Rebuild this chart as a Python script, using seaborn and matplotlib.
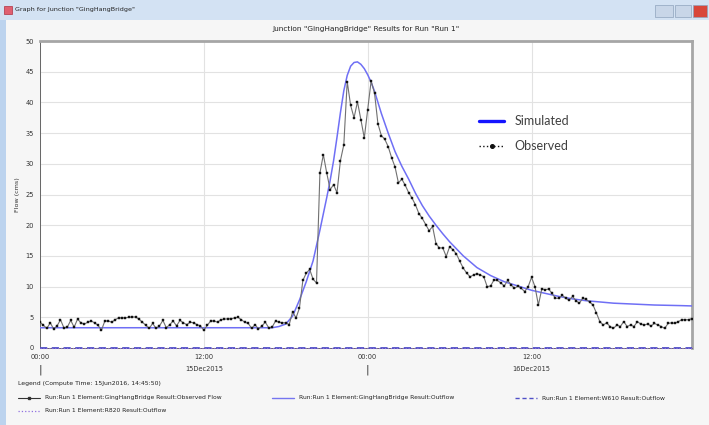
import numpy as np
import pandas as pd
import matplotlib
matplotlib.use("Agg")
import matplotlib.pyplot as plt
from matplotlib.lines import Line2D
from matplotlib.patches import Rectangle
import seaborn as sns

# ---------------- data ----------------
window_title = 'Graph for Junction "GingHangBridge"'
chart_title = 'Junction "GingHangBridge" Results for Run "Run 1"'
y_label = "Flow (cms)"
x_tick_hours = [0, 12, 24, 36]
x_tick_labels = ["00:00", "12:00", "00:00", "12:00"]
date_label_hours = [12, 36]
date_labels = ["15Dec2015", "16Dec2015"]
day_break_hours = [0, 24]
y_ticks = [0, 5, 10, 15, 20, 25, 30, 35, 40, 45, 50]

# observed flow, 15-minute steps from 15Dec2015 00:00
observed_flow = [
    4.2, 3.7, 3.2, 4.1, 3.1, 3.6, 4.6, 3.3, 3.4, 4.5,
    3.4, 4.7, 4.1, 3.9, 4.2, 4.4, 4.1, 3.7, 2.9, 4.4,
    4.4, 4.2, 4.6, 4.9, 4.9, 4.9, 5.0, 5.05, 5.05, 4.7,
    4.2, 3.7, 3.2, 4.0, 3.2, 3.6, 4.5, 3.3, 3.8, 4.4,
    3.6, 4.5, 4.1, 3.8, 4.2, 4.1, 3.8, 3.6,
    2.9, 3.7, 4.4, 4.4, 4.2, 4.6, 4.7, 4.75, 4.75, 4.9,
    5.0, 4.6, 4.2, 4.0, 3.2, 3.8, 3.1, 3.6, 4.2, 3.3,
    3.4, 4.4, 4.2, 4.1, 4.1, 3.8,
    5.9, 4.9, 6.5, 11.0, 12.2, 12.8, 11.2, 10.6,
    28.5, 31.5, 28.5, 25.8, 26.6, 25.3, 30.5, 33.1, 43.4, 39.5,
    37.5, 40.1, 37.2, 34.2, 38.8, 43.5, 41.5, 36.5, 34.6, 34.0,
    32.8, 31.0, 29.5, 26.9, 27.5, 26.5, 25.3, 24.4, 23.3, 21.9,
    21.1, 20.1, 19.1, 19.8, 17.0, 16.3,
    16.3, 14.9, 16.5, 16.0, 15.3, 14.1, 13.0, 12.2, 11.6, 11.9,
    12.1, 11.9, 11.6, 10.0, 10.1, 11.1, 11.0, 10.6, 10.1, 11.0,
    10.3, 9.7, 10.1, 9.7, 9.2, 10.0, 11.5, 10.0, 7.0, 9.6,
    9.5, 9.6, 8.9, 8.1, 8.1, 8.6, 8.1, 7.8, 8.4, 7.7,
    7.3, 8.1, 7.9, 7.5, 7.0, 5.7, 4.3, 3.75, 4.1, 3.5,
    3.2, 3.75, 3.5, 4.3, 3.5, 3.75, 3.5, 4.3, 3.9, 3.75,
    3.9, 3.6, 4.0, 3.75, 3.5, 3.2, 4.0, 4.1, 4.0, 4.3,
    4.6, 4.6, 4.6, 4.8,
]
observed_hours = np.arange(len(observed_flow)) * 0.25

# simulated outflow at GingHangBridge
sim_hours = [0, 17, 17.5, 18, 18.5, 19, 19.5, 20, 20.5, 21, 21.25, 21.5, 21.75,
             22, 22.25, 22.5, 22.75, 23, 23.25, 23.5, 23.75, 24, 24.25, 24.5,
             24.75, 25, 25.5, 26, 26.5, 27, 27.5, 28, 28.5, 29, 29.5, 30, 31, 32,
             33, 34, 35, 36, 37, 38, 39, 40, 41, 42, 43, 44, 45, 46, 47, 47.75]
sim_flow = [3.3, 3.3, 3.5, 3.9, 5.2, 7.8, 10.8, 14.2, 19.2, 24.5, 27.3, 30.5,
            34.3, 38.3, 41.9, 44.4, 45.9, 46.5, 46.6, 46.2, 45.5, 44.5, 43.3,
            41.8, 40.0, 38.2, 35.0, 32.0, 29.6, 27.5, 25.2, 23.2, 21.5, 20.0,
            18.6, 17.3, 15.0, 13.1, 11.8, 10.8, 10.1, 9.4, 8.9, 8.4, 8.0, 7.7,
            7.5, 7.3, 7.2, 7.1, 7.0, 6.95, 6.9, 6.85]

# other elements (zero flow)
w610_hours = [0, 47.75]
w610_flow = [0.0, 0.0]
r820_hours = [0, 47.75]
r820_flow = [0.0, 0.0]

legend_header = "Legend (Compute Time: 15Jun2016, 14:45:50)"
legend_names = [
    "Run:Run 1 Element:GingHangBridge Result:Observed Flow",
    "Run:Run 1 Element:GingHangBridge Result:Outflow",
    "Run:Run 1 Element:W610 Result:Outflow",
    "Run:Run 1 Element:R820 Result:Outflow",
]
inset_names = ["Simulated", "Observed"]

# ---------------- figure ----------------
sns.set_style("white")
plt.rcParams["font.family"] = ["DejaVu Sans"]

W, H = 709, 425
fig = plt.figure(figsize=(W / 100, H / 100), dpi=100)
fig.patch.set_facecolor("#f6f6f6")

def fx(px):
    return px / W

def fy(py):
    return 1 - py / H

# window chrome
fig.add_artist(Rectangle((0, fy(20)), 1, 20 / H, transform=fig.transFigure,
                         facecolor="#d3e2f3", edgecolor="none", zorder=0))
fig.add_artist(Rectangle((0, 0), fx(6), fy(20), transform=fig.transFigure,
                         facecolor="#bcd3ee", edgecolor="none", zorder=0))
fig.add_artist(Rectangle((fx(4), fy(14)), fx(8), 8 / H, transform=fig.transFigure,
                         facecolor="#e06070", edgecolor="#b03040", lw=0.5, zorder=1))
for x0, wdt, col in [(655, 18, "#c8d6e8"), (675, 16, "#c8d6e8"), (693, 14, "#d8463a")]:
    fig.add_artist(Rectangle((fx(x0), fy(17)), fx(wdt), 12 / H, transform=fig.transFigure,
                             facecolor=col, edgecolor="#8fa3bd", lw=0.5, zorder=1))
fig.text(fx(15), fy(10), window_title, fontsize=4.6, va="center", ha="left", color="#222222")
fig.text(fx(366), fy(29), chart_title, fontsize=5.3, va="center", ha="center", color="#222222")

ax = fig.add_axes([fx(40), fy(348), fx(692) - fx(40), fy(41) - fy(348)])
ax.set_facecolor("white")

# other elements at zero
sns.lineplot(x=w610_hours, y=w610_flow, ax=ax, color="#5050c8", lw=1.3,
             linestyle=(0, (4, 2.5)), zorder=5, clip_on=False)
sns.lineplot(x=r820_hours, y=r820_flow, ax=ax, color="#9070e0", lw=0.8,
             linestyle=":", zorder=5, clip_on=False)
# simulated
sns.lineplot(x=sim_hours, y=sim_flow, ax=ax, color="#6f6ff5", lw=1.1, zorder=4)
# observed
sns.lineplot(x=observed_hours, y=observed_flow, ax=ax, color="#707070", lw=0.8,
             marker="s", markersize=1.7, markerfacecolor="#111111",
             markeredgecolor="#111111", markeredgewidth=0.3, zorder=6)

ax.set_xlim(0, 47.75)
ax.set_ylim(0, 50)
ax.set_yticks(y_ticks)
ax.set_yticklabels([str(v) for v in y_ticks], fontsize=4.8, color="#333333")
ax.set_xticks(x_tick_hours)
ax.set_xticklabels(x_tick_labels, fontsize=4.8, color="#333333")
ax.tick_params(axis="both", length=2.5, width=0.6, color="#555555", pad=2)
ax.grid(True, color="#e2e2e2", lw=0.8)
ax.set_axisbelow(True)
for side in ["left", "bottom"]:
    ax.spines[side].set_color("#666666")
    ax.spines[side].set_linewidth(0.7)
for side in ["top", "right"]:
    ax.spines[side].set_color("#a6a6a6")
    ax.spines[side].set_linewidth(2.0)
ax.set_xlabel("")
ax.set_ylabel("")
fig.text(fx(18), fy(195), y_label, fontsize=4.6, rotation=90, va="center",
         ha="center", color="#333333")

trans = ax.get_xaxis_transform()
for h, lab in zip(date_label_hours, date_labels):
    ax.text(h, -0.068, lab, transform=trans, fontsize=4.8, ha="center",
            va="center", color="#333333")
for h in day_break_hours:
    ax.text(h, -0.07, "|", transform=trans, fontsize=8, ha="center",
            va="center", color="#333333")

# in-plot legend
inset_handles = [
    Line2D([], [], color="#1414ff", lw=2.4),
    Line2D([], [], color="#111111", lw=1.0, linestyle=":", marker="o",
           markersize=2.6, markevery=1),
]
leg = ax.legend(inset_handles, inset_names, loc="upper left",
                bbox_to_anchor=((468 - 40) / 652, (348 - 104) / 307),
                frameon=False, handlelength=2.0, labelspacing=1.05,
                handletextpad=0.8, prop={"family": "Lato", "size": 9})
for t in leg.get_texts():
    t.set_color("#404040")

# bottom legend
fig.text(fx(18), fy(383), legend_header, fontsize=4.4, va="center", ha="left",
         color="#222222")
entries = [
    (18, 398, dict(color="#333333", lw=0.8, marker="s", markersize=1.8,
                   markevery=[1], markerfacecolor="#111111")),
    (272, 398, dict(color="#7575f0", lw=1.0)),
    (515, 398, dict(color="#5050c8", lw=1.0, linestyle=(0, (3, 2)))),
    (18, 411, dict(color="#9070e0", lw=0.9, linestyle=":")),
]
for (x0, y0, style), name in zip(entries, legend_names):
    fig.add_artist(Line2D([fx(x0), fx(x0 + 11), fx(x0 + 22)], [fy(y0)] * 3,
                          transform=fig.transFigure, **style))
    fig.text(fx(x0 + 27), fy(y0), name, fontsize=4.3, va="center", ha="left",
             color="#222222")

fig.savefig("out.png", dpi=100, facecolor=fig.get_facecolor())
